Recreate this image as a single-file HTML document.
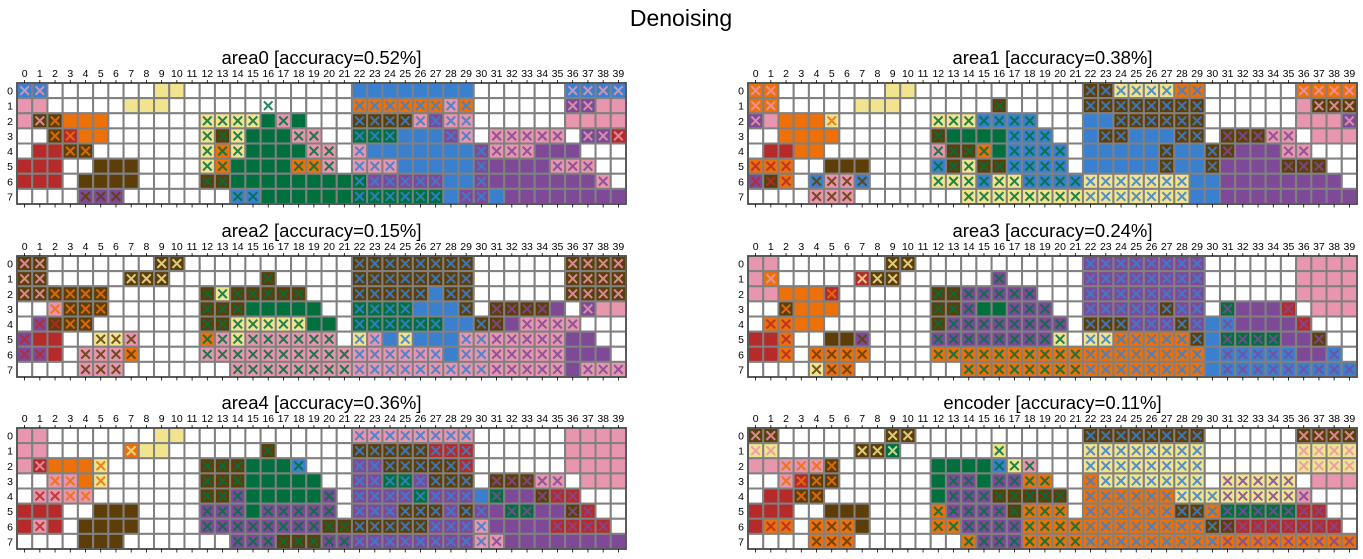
<!DOCTYPE html>
<html><head><meta charset="utf-8"><style>
html,body{margin:0;padding:0;background:#fff;}
svg{display:block;font-family:"Liberation Sans",sans-serif;}
</style></head><body>
<svg id="chart" width="1363" height="559" viewBox="0 0 1363 559">
<text x="681" y="26" text-anchor="middle" font-size="23">Denoising</text>
</svg>
<script>
const panelTitles = ["area0 [accuracy=0.52%]","area1 [accuracy=0.38%]","area2 [accuracy=0.15%]","area3 [accuracy=0.24%]","area4 [accuracy=0.36%]","encoder [accuracy=0.11%]"];
const area0 = [
"BP*2 .*7 Y*2 .*11 B*8 .*6 BP*4",
"P*2 .*5 Y*3 .*6 .G .*5 OB*6 PB OB .*6 VP*2 P*2",
"P DP DO O*3 .*6 YG*4 G PG G .*3 DB*4 PB VB PB*2 .*6 P*4",
".*2 DO RO O*2 .*6 YG DG YG G*3 PG*2 .*2 GB*3 B*3 VB PB . PV*5 . VP*2 RP",
". R*2 DO*2 .*7 YG OG YG G*4 PG*2 . PB B*7 VB PV*3 V*3 .*3",
"R*3 .*2 D*3 .*4 YG OG G*4 OG*2 PG . PB*3 B*5 VB V*4 PV*3 .*2",
"R*3 . D*4 .*4 DG*2 G*8 GB VB*5 B*2 VB V*7 PV .",
".*4 VD*3 .*7 BG*2 G*6 GB*6 B VB*2 BB V*8"];
const area1 = [
"OP*2 .*7 Y*2 .*11 DB*2 YB*4 OB*2 .*6 OP*4",
"OP*2 .*5 Y*3 .*6 DG .*5 DB*8 .*6 P DP*3",
"VP P O*3 YO .*6 YG*3 BG*4 .*3 B*2 DB*6 .*6 P*3 VP",
".*2 O*4 .*6 DG G*4 BG*3 .*2 B DB*2 B*3 DB*2 . DV*3 PV*2 . P*3",
". R*2 O*2 .*7 PG DG*2 OG G BG*4 . B*5 DB B*2 DB DV V*3 PV*2 .*3",
"OR*3 .*2 D*3 .*4 BG DG YG DG*2 BG*4 . B*5 DB B*2 DB V*4 DV*3 .*2",
"VR DR OR . BD PD*2 BD .*4 YG*3 BG YG*2 BG*4 YB*7 B*2 V*8 .",
".*4 PD*3 .*7 YG*8 YB*7 B*2 V*9"];
const area2 = [
"DP*2 .*7 DY*2 .*11 DB*8 .*6 DP*4",
"DP*2 .*5 DY*3 .*6 DG .*5 DB*8 .*6 DP*4",
"DP*2 DO*4 .*6 DG YG DG*5 .*3 DB*5 B DB*2 .*6 DP*4",
".*2 PO DO*3 .*6 DG*3 G*5 .*2 GB*4 B*3 DB . DV*4 V . VP P*2",
". VR DR DO*2 .*7 DG*2 YG*5 G*2 . GB*6 B*2 DB DV V PV*4 .*3",
"VR R*2 .*2 YD*2 PD .*4 OG PG YG PG*6 . YB PB B YB B*3 PB*2 PV*5 V*2 .*2",
"VR*2 R . PD*3 OD .*4 PG*10 PB*6 B PB*2 PV*5 V*3 .",
".*4 PD*3 .*7 PG*8 PB*9 PV*5 V PV*3"];
const area3 = [
"P*2 .*7 DY*2 .*11 VB*8 .*6 P*4",
"P OP .*5 RY DY*2 .*6 VG .*5 VB*8 .*6 P*4",
"P*2 O*3 RO .*6 DG*2 VG*5 .*3 VB*8 .*6 P*4",
".*2 DO O*3 .*6 DG*2 VG G*2 VG*3 .*2 VB*5 DB VB*2 . GV V*3 RV . P*3",
". OR*2 O*2 .*7 DG VG*8 . DB*3 VB*3 DB VB B BV V*4 RV .*3",
"R*2 OR .*2 D*2 VD .*4 VG*8 YG . YB*2 OB*5 DB B GV*4 V*2 DV .*2",
"R*2 OR . OD*4 .*4 OG*10 OB*8 B BV*5 V*2 BV .",
".*4 YD OD*2 .*7 OG*8 OB*8 B BV*9"];
const area4 = [
"P*2 .*7 Y*2 .*11 PB*8 .*6 P*4",
"P*2 .*5 OY Y*2 .*6 DG .*5 DB*5 RB*3 .*6 P*4",
"P RP O*3 YO .*6 DG*3 G*3 BG .*3 VB*2 DB*5 RB .*6 P*4",
".*2 PO*2 O YO .*6 DG*3 G*5 .*2 VB*2 GB*2 VB DB*3 . DV*3 PV*2 . P*3",
". PR*2 PO*2 .*7 DG*2 VG G*5 VG . VB*4 GB VB*3 B GV V*2 DV RV*2 .*3",
"R*3 .*2 D*3 .*4 VG*3 G VG*5 . VB*3 DB*3 VB DB VB V GV*2 V*2 DV RV .*2",
"R PR R . D*4 .*4 VG*8 DG*2 DB*5 VB*3 PB V*4 RV*4 .",
".*4 D*3 .*7 VG*3 DG*3 VG*2 VB*8 PB PV V*8"];
const encoder = [
"DP*2 .*7 DY*2 .*11 DB*8 .*6 DP*4",
"YP*2 .*5 DY*2 GY .*6 YG .*5 YB*8 .*6 YP*4",
"P*2 PO*3 DO .*6 G*4 BG YG PG .*3 YB*8 .*6 YP*4",
".*2 PO RO DO*2 .*6 G VG*2 G VG*2 OG*2 .*2 OB YB*7 . YV*5 . P*3",
". R*2 DO*2 .*7 G VG*3 DG*5 . OB*6 YB*3 YV*5 PV .*3",
"R*3 .*2 D*3 .*4 OG VG*4 DG OG*3 . OB*6 DB*2 OB GV*5 RV*2 .*2",
"R OR*2 . OD*3 D .*4 OG*2 VG*4 OG*4 OB*8 DB DV RV*7 .",
".*4 OD*3 .*7 OG VG*3 OG*4 OB*9 OV*9"];
const panelData = [area0, area1, area2, area3, area4, encoder];
const colTicks = Array.from({length:40},(_,i)=>String(i));
const rowTicks = ["0","1","2","3","4","5","6","7"];

const PAL = {B:"#3a80cf",P:"#e896ad",Y:"#f2e48f",O:"#ed7008",R:"#b62a2a",D:"#5d3e08",G:"#00703f",V:"#7e4a98"};
const NS = "http://www.w3.org/2000/svg";
const svg = document.getElementById('chart');
function mk(tag, attrs, parent){const e=document.createElementNS(NS,tag);for(const k in attrs)e.setAttribute(k,attrs[k]);parent.appendChild(e);return e;}
function expand(row){const out=[];row.trim().split(/\s+/).forEach(t=>{let [tok,n]=t.split('*');n=n?+n:1;for(let i=0;i<n;i++)out.push(tok);});return out;}

const lefts=[17,748], tops=[83,256,428], W=609, H=121;
panelData.forEach((rows,p)=>{
  const x0=lefts[p%2], y0=tops[Math.floor(p/2)];
  const nC=colTicks.length, nR=rows.length;
  const cw=W/nC, ch=H/nR;
  const xs=c=>x0+c*cw, ys=r=>y0+r*ch;
  const g=mk('g',{},svg);
  
  
  const t=mk('text',{x:x0+W/2,y:y0-19,'text-anchor':'middle','font-size':'18.5'},g);
  t.textContent=panelTitles[p];
  
  
  rows.forEach((row,r)=>{
    const cells=expand(row);
    cells.forEach((tok,c)=>{
      const bg=tok[0], mc=tok[1];
      const rect=mk('rect',{x:xs(c),y:ys(r),width:cw,height:ch,fill:bg==='.'?'#fff':PAL[bg],stroke:'#808080','stroke-width':'2'},g);
      
      
      if(mc){
        const cx=xs(c)+cw/2, cy=ys(r)+ch/2, s=4.3;
        const m=mk('path',{d:`M${cx-s},${cy-s}L${cx+s},${cy+s}M${cx-s},${cy+s}L${cx+s},${cy-s}`,stroke:PAL[mc],'stroke-width':'2','stroke-opacity':'0.85',fill:'none'},g);
        
        
      }
    });
  });
  const fr=mk('rect',{x:x0,y:y0,width:W,height:H,fill:'none',stroke:'#333','stroke-width':'1'},g);
  
  
  colTicks.forEach((lab,c)=>{
    const tx=mk('text',{x:xs(c)+cw/2,y:y0-6,'text-anchor':'middle','font-size':'10.5'},g);
    tx.textContent=lab;
    
    
    mk('line',{x1:xs(c)+cw/2,x2:xs(c)+cw/2,y1:y0-3,y2:y0,stroke:'#000','stroke-width':'0.8'},g);
    mk('line',{x1:xs(c)+cw/2,x2:xs(c)+cw/2,y1:y0+H,y2:y0+H+3.5,stroke:'#000','stroke-width':'0.8'},g);
  });
  rowTicks.forEach((lab,r)=>{
    const ty=mk('text',{x:x0-4,y:ys(r)+ch/2+4,'text-anchor':'end','font-size':'10.5'},g);
    ty.textContent=lab;
    
    
  });
});
</script>
</body></html>
